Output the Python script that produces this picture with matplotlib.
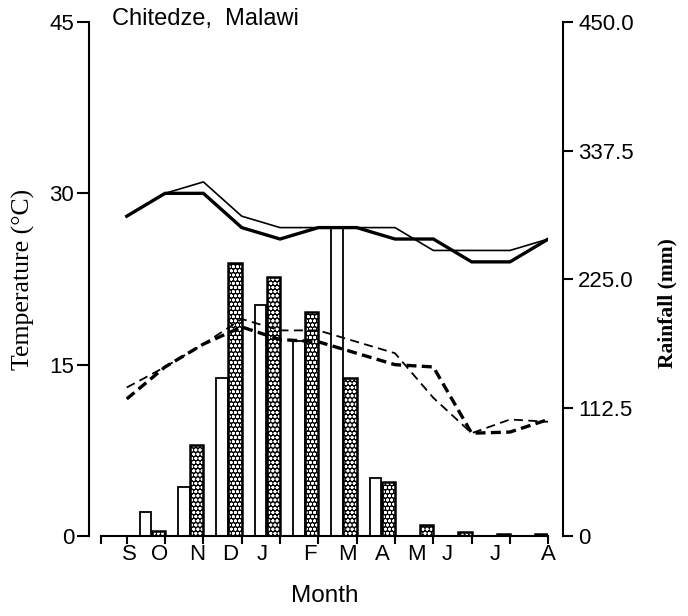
import matplotlib
matplotlib.use("Agg")
from matplotlib import pyplot as plt

plt.rcParams['font.family'] = ['Liberation Sans', 'DejaVu Sans']
plt.rcParams['hatch.linewidth'] = 0.9

# months Sep..Aug, one value per month tick
months = ['S', 'O', 'N', 'D', 'J', 'F', 'M', 'A', 'M', 'J', 'J', 'A']
tmax_a = [28, 30, 30, 27, 26, 27, 27, 26, 26, 24, 24, 26]      # thick solid
tmax_b = [28, 30, 31, 28, 27, 27, 27, 27, 25, 25, 25, 26]      # thin solid
tmin_a = [12, 14.8, 16.8, 18.3, 17.2, 17, 16, 15, 14.8, 9, 9.1, 10.2]   # thick dashed
tmin_b = [13, 14.8, 16.8, 19, 18, 18, 17, 16, 12.1, 9, 10.2, 10]        # thin dashed

# monthly rainfall (mm), two records
rain_open = [0, 21, 43, 138, 202, 171, 270, 51, 0, 0, 0, 0]
rain_dark = [0, 4, 80, 239, 227, 196, 138, 47, 10, 3.5, 1.5, 1.5]

# where the month letters sit along the axis
label_pos = [0.06, 0.87, 1.83, 2.69, 3.53, 4.78, 5.77, 6.66, 7.57, 8.36, 9.61, 10.99]

W, H = 688, 616
fig = plt.figure(figsize=(W / 100, H / 100), dpi=100)
ax = fig.add_axes([100.7 / W, 80 / H, (548.3 - 100.7) / W, 514 / H])
ax2 = ax.twinx()
ax.set_zorder(ax2.get_zorder() + 1)
ax.patch.set_visible(False)

x = list(range(len(months)))

# rainfall bars: open bar then dotted dark bar, ending at each tick
xo = [i - 0.66 for i in x]
xd = [i - 0.35 for i in x]
ax2.bar(xo, rain_open, width=0.3, align='edge', color='white', edgecolor='black', linewidth=1.3)
ax2.bar(xd, rain_dark, width=0.35, align='edge', color='black', edgecolor='white',
        hatch='oooo', linewidth=0)
ax2.bar(xd, rain_dark, width=0.35, align='edge', fill=False, edgecolor='black', linewidth=1.8)

# temperatures
ax.plot(x, tmax_a, color='black', lw=2.4, solid_joinstyle='miter')
ax.plot(x, tmax_b, color='black', lw=1.2)
ax.plot(x, tmin_a, color='black', lw=2.4, dashes=(3, 1.6))
ax.plot(x, tmin_b, color='black', lw=1.3, dashes=(5, 3))

ax.set_xlim(-0.68, 11)
ax.set_ylim(0, 45)
ax2.set_ylim(0, 450)

for s in ['top', 'right']:
    ax.spines[s].set_visible(False)
for s in ['top', 'left', 'bottom']:
    ax2.spines[s].set_visible(False)
ax.spines['left'].set_position(('outward', 8.6))
ax2.spines['right'].set_position(('outward', 10.6))
for sp in [ax.spines['left'], ax.spines['bottom'], ax2.spines['right']]:
    sp.set_linewidth(1.5)

ax.set_xticks([-0.68] + x)
ax.set_xticklabels([])
ax.set_xticks(label_pos, minor=True)
ax.set_xticklabels(months, minor=True)
ax.tick_params(axis='x', which='major', direction='out', length=6, width=1.5)
ax.tick_params(axis='x', which='minor', length=0, pad=6, labelsize=16)

ax.set_yticks([0, 15, 30, 45])
ax.tick_params(axis='y', direction='out', length=8.6, width=1.5, labelsize=16, pad=2)
ax2.set_yticks([0, 112.5, 225, 337.5, 450])
ax2.set_yticklabels(['0', '112.5', '225.0', '337.5', '450.0'])
ax2.tick_params(axis='y', direction='out', length=7, width=1.5, labelsize=16, pad=4)

ax.set_xlabel('Month', fontsize=17.5, labelpad=14)
ax.set_ylabel('Temperature (°C)', fontsize=18.5, family=['Liberation Serif', 'DejaVu Serif'],
              labelpad=10)
ax2.set_ylabel('Rainfall (mm)', fontsize=15.5, family=['Liberation Serif', 'DejaVu Serif'],
               fontweight='bold')
ax2.yaxis.set_label_coords(1.243, 0.453)

fig.text(112 / W, 1 - 25 / H, 'Chitedze,  Malawi', fontsize=17, va='baseline', ha='left')

fig.savefig('out.png', dpi=100)
